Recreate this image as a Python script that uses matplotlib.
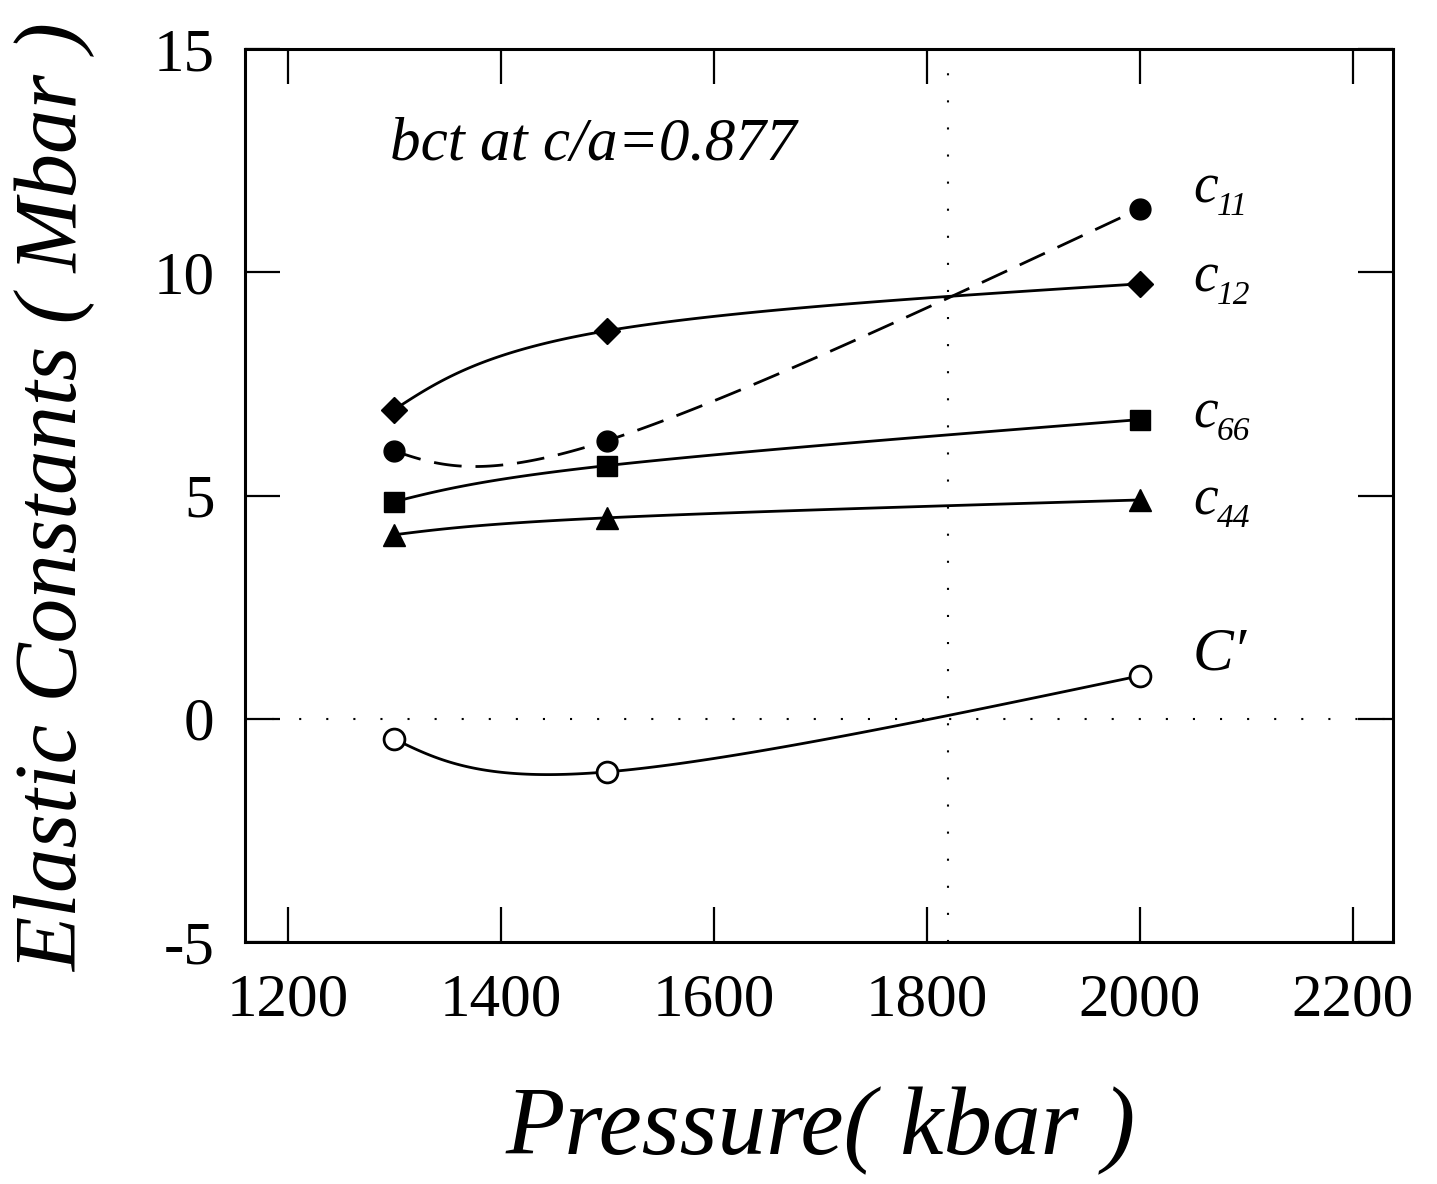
import matplotlib
matplotlib.use("Agg")
import matplotlib.pyplot as plt
from matplotlib.transforms import offset_copy
import numpy as np

plt.rcParams['font.family'] = ['Liberation Serif', 'DejaVu Serif']
plt.rcParams['axes.unicode_minus'] = False

pressure = [1300, 1500, 2000]
c11 = [6.00, 6.23, 11.42]
c12 = [6.92, 8.69, 9.74]
c66 = [4.86, 5.67, 6.70]
c44 = [4.12, 4.50, 4.90]
cprime = [-0.45, -1.19, 0.96]

xticks = [1200, 1400, 1600, 1800, 2000, 2200]
yticks = [-5, 0, 5, 10, 15]
p_transition = 1820

labels = ['11', '12', '66', '44']
label_y = [11.56, 9.56, 6.52, 4.57]


def natural_spline(t, v, n=60):
    # natural cubic spline on the point index, used to draw smooth curves
    t = np.asarray(t, float)
    v = np.asarray(v, float)
    k = len(t)
    A = np.zeros((k, k))
    r = np.zeros(k)
    A[0, 0] = 1
    A[-1, -1] = 1
    for i in range(1, k - 1):
        h0 = t[i] - t[i - 1]
        h1 = t[i + 1] - t[i]
        A[i, i - 1] = h0
        A[i, i] = 2 * (h0 + h1)
        A[i, i + 1] = h1
        r[i] = 6 * ((v[i + 1] - v[i]) / h1 - (v[i] - v[i - 1]) / h0)
    M = np.linalg.solve(A, r)
    out = []
    for i in range(k - 1):
        h = t[i + 1] - t[i]
        s = np.linspace(t[i], t[i + 1], n)
        a = t[i + 1] - s
        b = s - t[i]
        seg = (M[i] * a**3 + M[i + 1] * b**3) / (6 * h) \
            + (v[i] / h - M[i] * h / 6) * a + (v[i + 1] / h - M[i + 1] * h / 6) * b
        out.append(seg if i == 0 else seg[1:])
    return np.concatenate(out)


def smooth(x, y):
    t = np.arange(len(x))
    return natural_spline(t, x), natural_spline(t, y)


fig = plt.figure(figsize=(14.37, 11.84), dpi=100)
ax = fig.add_axes([0.1705, 0.2044, 0.7989, 0.7542])

ax.axhline(0, color='black', lw=1.5, ls=(0, (1, 12)))
ax.axvline(p_transition, color='black', lw=1.5, ls=(0, (1, 12)))

series = [
    (c11, 'o', 15, (0, (10, 5))),
    (c12, 'D', 13, '-'),
    (c66, 's', 14, '-'),
    (c44, '^', 16, '-'),
]
for vals, m, ms, ls in series:
    sx, sy = smooth(pressure, vals)
    ax.plot(sx, sy, color='black', lw=2.0, ls=ls)
    ax.plot(pressure, vals, ls='none', marker=m, ms=ms, mfc='black', mec='black')

sx, sy = smooth(pressure, cprime)
ax.plot(sx, sy, color='black', lw=2.0)
ax.plot(pressure, cprime, ls='none', marker='o', ms=15, mfc='white', mec='black', mew=2.0)

ax.set_xlim(1160, 2238)
ax.set_ylim(-5, 15)
ax.set_xticks(xticks)
ax.set_yticks(yticks)
ax.tick_params(direction='in', length=25, width=1.6, top=True, right=True,
               labelsize=44, pad=22)
for sp in ax.spines.values():
    sp.set_linewidth(2.2)

ax.text(1296, 12.52, 'bct at c/a=0.877', fontsize=44, style='italic', va='baseline')

lab_x = 2050
sub_tr = offset_copy(ax.transData, fig=fig, x=17, y=-9, units='points')
for lab, ly in zip(labels, label_y):
    ax.text(lab_x, ly, 'c', fontsize=40, style='italic', va='baseline')
    ax.text(lab_x, ly, lab, fontsize=24, style='italic', va='baseline', transform=sub_tr)
ax.text(lab_x, 1.10, 'C\u2032', fontsize=44, style='italic', va='baseline')

fig.text(0.571, 0.025, 'Pressure( kbar )', fontsize=70, style='italic',
         ha='center', va='baseline')
fig.text(0.038, 0.58, 'Elastic Constants ( Mbar )', fontsize=64, style='italic',
         rotation=90, ha='center', va='center')

fig.savefig('out.png', dpi=100)
